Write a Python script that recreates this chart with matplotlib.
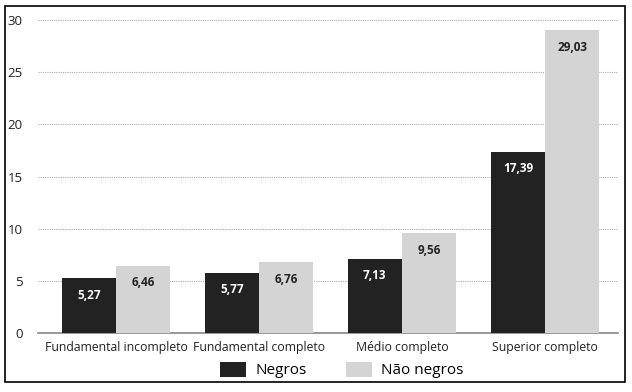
import matplotlib
matplotlib.use("Agg")
import matplotlib.pyplot as plt
from matplotlib.patches import Rectangle
import numpy as np

categories = ["Fundamental incompleto", "Fundamental completo", "Médio completo", "Superior completo"]
negros = [5.27, 5.77, 7.13, 17.39]
nao_negros = [6.46, 6.76, 9.56, 29.03]
series_names = ["Negros", "Não negros"]
yticks = [0, 5, 10, 15, 20, 25, 30]

plt.rcParams["font.family"] = ["Open Sans", "DejaVu Sans"]

W, H = 632, 392
fig = plt.figure(figsize=(W/100, H/100), dpi=100)
fig.patch.set_facecolor("white")
fig.add_artist(Rectangle((5/W, 1-382/H), 620/W, 376/H, transform=fig.transFigure,
                         fill=False, edgecolor="black", linewidth=1.2))

ax = fig.add_axes([38/W, 1-333/H, 580/W, 313/H])
x = np.arange(len(categories))
w = 0.38
dark = "#222222"
light = "#d4d4d4"
b1 = ax.bar(x - w/2, negros, w, color=dark, label=series_names[0], zorder=3)
b2 = ax.bar(x + w/2, nao_negros, w, color=light, label=series_names[1], zorder=3)

ax.set_xlim(-0.545, 3.51)
ax.set_ylim(0, 30)
ax.set_yticks(yticks)
ax.set_yticklabels([str(t) for t in yticks], fontsize=9.5, color="#222222", fontweight="medium")
ax.yaxis.grid(True, linestyle=(0, (1, 1)), color="#aaaaaa", linewidth=0.8, zorder=0)
ax.tick_params(axis="y", length=0, pad=11)
ax.tick_params(axis="x", length=0, pad=6)
ax.set_xticks(x)
ax.set_xticklabels(categories, fontsize=8.8, color="#222222")
for s in ["top", "right", "left"]:
    ax.spines[s].set_visible(False)
ax.spines["bottom"].set_color("#888888")
ax.spines["bottom"].set_linewidth(1.2)

def fmt(v):
    return f"{v:.2f}".replace(".", ",")

for bars, col in [(b1, "white"), (b2, "#222222")]:
    for r in bars:
        v = r.get_height()
        ax.annotate(fmt(v), (r.get_x() + r.get_width()/2, v), xytext=(0, -17),
                    textcoords="offset pixels",
                    ha="center", va="center", color=col, fontsize=8.5, fontweight="bold", zorder=4)

leg = fig.legend(handles=[b1, b2], labels=series_names, loc="center",
                 bbox_to_anchor=(342/W, 1-370/H), ncol=2, frameon=False, fontsize=11,
                 handlelength=1.7, handleheight=1.2, columnspacing=2.6, handletextpad=0.6)

fig.savefig("out.png", dpi=100)
